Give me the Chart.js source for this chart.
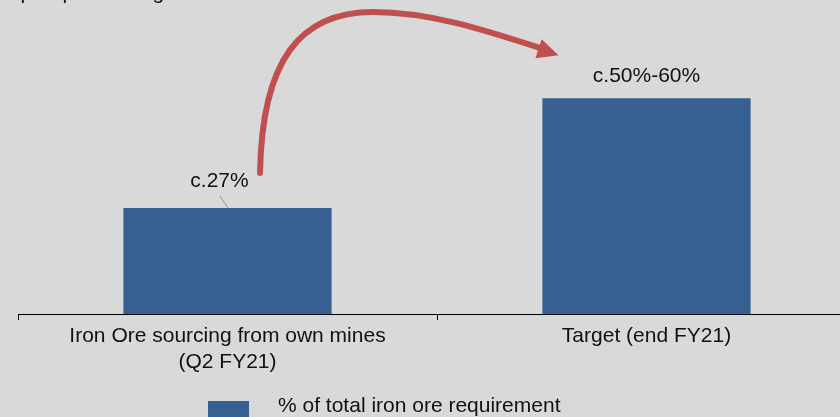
<!DOCTYPE html>
<html>
<head>
<meta charset="utf-8">
<script src="https://cdn.jsdelivr.net/npm/chart.js@4/dist/chart.umd.min.js"></script>
<style>
  html, body { margin: 0; padding: 0; background: #d9d9d9; overflow: hidden; }
  #wrap { width: 856px; height: 417px; position: relative; }
</style>
</head>
<body>
<div id="wrap"><canvas id="c" width="856" height="417"></canvas></div>
<script>
const categories = [["Iron Ore sourcing from own mines", "(Q2 FY21)"], ["Target (end FY21)"]];
const seriesName = "% of total iron ore requirement";
const values = [27, 55];
const valueLabels = ["c.27%", "c.50%-60%"];
const headline = "part processing";

const FONT = "'Liberation Sans', Arial, sans-serif";
const BAR = "#376092";
const RED = "#c0504d";

const overlay = {
  id: "overlay",
  afterDatasetsDraw(chart) {
    const ctx = chart.ctx;
    const meta = chart.getDatasetMeta(0);
    const b1 = meta.data[0], b2 = meta.data[1];
    ctx.save();
    // headline (cut off at top of the picture)
    ctx.fillStyle = "#111";
    ctx.font = "21px " + FONT;
    ctx.textAlign = "left";
    ctx.textBaseline = "alphabetic";
    ctx.fillText(headline, 20.5, -1);

    // value labels
    ctx.font = "21px " + FONT;
    ctx.textAlign = "center";
    ctx.fillText(valueLabels[0], b1.x - 8, b1.y - 21);
    ctx.fillText(valueLabels[1], b2.x, b2.y - 16);

    // leader line for first label
    ctx.strokeStyle = "#a6a6a6";
    ctx.lineWidth = 1.2;
    ctx.beginPath();
    ctx.moveTo(b1.x - 7.5, b1.y - 12);
    ctx.lineTo(b1.x + 0.5, b1.y);
    ctx.stroke();

    // curved arrow from first label to second label
    const sx = b1.x + 32.5, sy = b1.y - 35;
    const ex = b2.x - 102, ey = b2.y - 48;
    ctx.strokeStyle = RED;
    ctx.fillStyle = RED;
    ctx.lineWidth = 6;
    ctx.lineCap = "round";
    ctx.beginPath();
    ctx.moveTo(sx, sy);
    ctx.bezierCurveTo(sx + 2, 60, sx + 40, 12, sx + 113, 12);
    ctx.bezierCurveTo(sx + 170, 12, ex - 60, 30, ex - 4, ey - 2);
    ctx.stroke();
    // arrowhead
    const tipX = ex + 14, tipY = ey + 5;
    const ang = Math.atan2(tipY - (ey - 6), tipX - (ex - 20));
    const L = 21, W = 10;
    const bx = tipX - L * Math.cos(ang), by = tipY - L * Math.sin(ang);
    ctx.beginPath();
    ctx.moveTo(tipX, tipY);
    ctx.lineTo(bx + W * Math.sin(ang), by - W * Math.cos(ang));
    ctx.lineTo(bx - W * Math.sin(ang), by + W * Math.cos(ang));
    ctx.closePath();
    ctx.fill();

    // legend
    ctx.fillStyle = BAR;
    ctx.fillRect(208, 401, 41, 20);
    ctx.fillStyle = "#111";
    ctx.textAlign = "left";
    ctx.textBaseline = "middle";
    ctx.fillText(chart.data.datasets[0].label, 278, 406);
    ctx.restore();
  }
};

new Chart(document.getElementById("c"), {
  type: "bar",
  data: {
    labels: categories,
    datasets: [{
      label: seriesName,
      data: values,
      backgroundColor: BAR,
      borderWidth: 0,
      barPercentage: 0.497,
      categoryPercentage: 1.0
    }]
  },
  options: {
    responsive: false,
    animation: false,
    events: [],
    layout: { padding: { left: 18, right: 0, top: 0, bottom: 0 } },
    plugins: { legend: { display: false }, tooltip: { enabled: false } },
    scales: {
      x: {
        grid: { display: true, drawOnChartArea: false, drawTicks: true, tickLength: 6, color: "#000", lineWidth: 1, offset: true },
        border: { display: true, color: "#000", width: 1 },
        ticks: { color: "#111", font: { family: FONT, size: 21, lineHeight: 1.2 }, padding: 4, maxRotation: 0, autoSkip: false },
        afterFit(scale) { scale.height = 103; }
      },
      y: { display: false, min: 0, max: 80 }
    }
  },
  plugins: [overlay]
});
</script>
</body>
</html>
